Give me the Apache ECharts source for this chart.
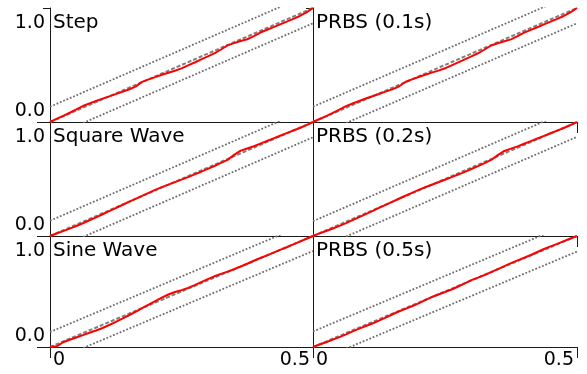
<!DOCTYPE html>
<html>
<head>
<meta charset="utf-8">
<script src="https://cdn.jsdelivr.net/npm/echarts@6/dist/echarts.min.js"></script>
<style>html,body{margin:0;padding:0;background:#fff}#c{width:587px;height:374px}</style>
</head>
<body>
<div id="c"></div>
<script>
// ---- data ----
const panelTitles = ['Step', 'PRBS (0.1s)', 'Square Wave', 'PRBS (0.2s)', 'Sine Wave', 'PRBS (0.5s)'];
const freq = [0, 0.0125, 0.025, 0.0375, 0.05, 0.0625, 0.075, 0.0875, 0.1, 0.1125, 0.125, 0.1375, 0.15, 0.1625, 0.175, 0.1875, 0.2, 0.2125, 0.225, 0.2375, 0.25, 0.2625, 0.275, 0.2875, 0.3, 0.3125, 0.325, 0.3375, 0.35, 0.3625, 0.375, 0.3875, 0.4, 0.4125, 0.425, 0.4375, 0.45, 0.4625, 0.475, 0.4875, 0.5];
const cpStep = [0, .027, .053, .081, .110, .140, .163, .184, .205, .225, .245, .265, .285, .310, .352, .374, .394, .414, .432, .450, .470, .496, .522, .549, .575, .602, .636, .672, .692, .710, .726, .754, .785, .809, .832, .856, .880, .905, .930, .962, 1.0];
const cpPrbs01 = [0, .026, .052, .080, .109, .139, .162, .184, .206, .226, .246, .266, .286, .311, .351, .374, .395, .415, .433, .451, .471, .497, .523, .550, .576, .603, .636, .671, .691, .709, .725, .753, .784, .808, .831, .856, .880, .905, .930, .961, 1.0];
const cpSquare = [0, .022, .043, .065, .088, .112, .138, .164, .191, .218, .245, .272, .299, .326, .352, .379, .405, .429, .451, .473, .494, .517, .540, .564, .589, .614, .641, .668, .712, .749, .768, .787, .810, .833, .856, .879, .902, .925, .947, .972, 1.0];
const cpPrbs02 = [0, .023, .044, .066, .089, .113, .139, .165, .192, .219, .246, .273, .300, .327, .353, .379, .404, .428, .450, .472, .493, .516, .539, .563, .588, .613, .640, .667, .709, .746, .766, .786, .809, .832, .855, .878, .901, .924, .947, .972, 1.0];
const cpSine = [0, .006, .043, .065, .086, .107, .128, .149, .171, .198, .226, .255, .286, .317, .350, .382, .413, .444, .473, .495, .512, .532, .557, .584, .611, .637, .659, .679, .701, .725, .750, .777, .802, .826, .850, .875, .899, .924, .950, .975, 1.0];
const cpPrbs05 = [0, .022, .043, .066, .089, .114, .141, .166, .189, .212, .237, .264, .293, .320, .344, .367, .393, .422, .450, .473, .495, .518, .545, .573, .602, .625, .649, .675, .702, .729, .756, .781, .804, .829, .856, .883, .906, .929, .954, .977, 1.0];
const panelValues = [cpStep, cpPrbs01, cpSquare, cpPrbs02, cpSine, cpPrbs05];
const bounds = [0.134, 0.134, 0.134, 0.130, 0.135, 0.140];
const diagX = [0, 0.5];
const diagY = [0, 1];
const xTickLabels = ['0', '0.5'];
const yTickLabels = ['0.0', '1.0'];

// ---- layout ----
const colLeft = [50, 313], colWidth = [263, 264];
const rowTop = [8, 122, 236], rowHeight = [114, 114, 111];
const FONT = 'DejaVu Sans';
const AXC = '#1a1a1a';

const grid = [], xAxis = [], yAxis = [], series = [], title = [];
for (let i = 0; i < 6; i++) {
  const col = i % 2, row = Math.floor(i / 2);
  grid.push({left: colLeft[col], top: rowTop[row], width: colWidth[col], height: rowHeight[row]});
  xAxis.push({
    type: 'value', gridIndex: i, min: 0, max: 0.5, interval: 0.5,
    axisLine: {show: true, onZero: false, lineStyle: {color: AXC, width: 1}},
    axisTick: {show: true, length: 11, lineStyle: {color: AXC, width: 1}},
    splitLine: {show: false},
    axisLabel: {
      show: row === 2, margin: 4, fontSize: 19, fontFamily: FONT, color: '#000',
      alignMinLabel: 'left', alignMaxLabel: 'right', padding: [0, 3, 0, 3],
      formatter: v => xTickLabels[v === 0 ? 0 : 1]
    }
  });
  yAxis.push({
    type: 'value', gridIndex: i, min: 0, max: 1, interval: 1,
    axisLine: {show: true, onZero: false, lineStyle: {color: AXC, width: 1}},
    axisTick: {show: true, length: 7, lineStyle: {color: AXC, width: 1}},
    splitLine: {show: false},
    axisLabel: {
      show: col === 0, margin: 5, fontSize: 19, fontFamily: FONT, color: '#000',
      verticalAlignMinLabel: 'bottom', verticalAlignMaxLabel: 'top', padding: [6, 0, 1, 0],
      formatter: v => yTickLabels[v === 0 ? 0 : 1]
    }
  });
  title.push({
    text: panelTitles[i], left: colLeft[col] + 3, top: rowTop[row] + 5, padding: 0,
    textStyle: {fontSize: 20, fontFamily: FONT, fontWeight: 'normal', color: '#000'}
  });
}
// extra axes for the longer tick at 0
for (let i = 0; i < 6; i++) {
  yAxis.push({
    type: 'value', gridIndex: i, min: 0, max: 1, interval: 1, position: 'left',
    axisLine: {show: false},
    axisTick: {show: true, length: 13, customValues: [0], lineStyle: {color: AXC, width: 1}},
    axisLabel: {show: false}, splitLine: {show: false}
  });
}
for (let i = 0; i < 6; i++) {
  const c = bounds[i];
  const dotted = {color: '#6e6e6e', width: 1.8, type: [1.8, 1.8]};
  series.push({
    type: 'line', xAxisIndex: i, yAxisIndex: i, showSymbol: false, silent: true, clip: true, z: 2,
    data: diagX.map((x, k) => [x, diagY[k] + c]), lineStyle: dotted
  });
  series.push({
    type: 'line', xAxisIndex: i, yAxisIndex: i, showSymbol: false, silent: true, clip: true, z: 2,
    data: diagX.map((x, k) => [x, diagY[k] - c]), lineStyle: dotted
  });
  series.push({
    type: 'line', xAxisIndex: i, yAxisIndex: i, showSymbol: false, silent: true, z: 3,
    data: diagX.map((x, k) => [x, diagY[k]]),
    lineStyle: {color: '#808080', width: 2, type: [4, 2]}
  });
  series.push({
    type: 'line', xAxisIndex: i, yAxisIndex: i, showSymbol: false, silent: true, z: 4,
    data: freq.map((x, k) => [x, panelValues[i][k]]),
    lineStyle: {color: '#ff0000', width: 2}
  });
}

const chart = echarts.init(document.getElementById('c'), null, {renderer: 'canvas'});
chart.setOption({animation: false, backgroundColor: '#fff', title, grid, xAxis, yAxis, series});
</script>
</body>
</html>
